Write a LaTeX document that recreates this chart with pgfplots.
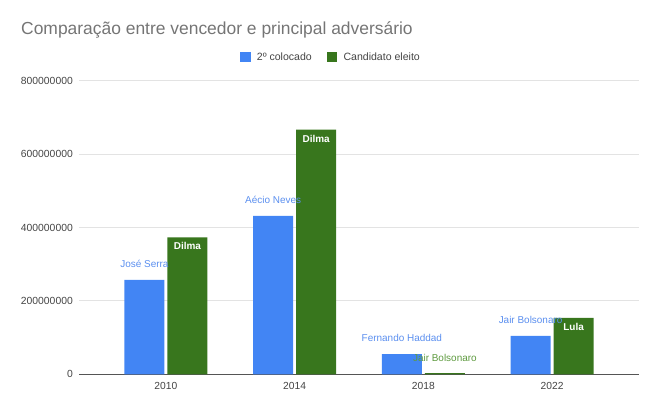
\documentclass[border=0pt]{standalone}
\usepackage{fontspec}
\setmainfont{Liberation Sans}
\usepackage{pgfplots}
\pgfplotsset{compat=1.18}
\definecolor{cblue}{HTML}{4285F4}
\definecolor{cgreen}{HTML}{38761D}
\definecolor{labelblue}{HTML}{5B8FEF}
\definecolor{labelgreen}{HTML}{5E9A3F}
\definecolor{titlegray}{HTML}{757575}
\definecolor{tickgray}{HTML}{444444}
\definecolor{gridgray}{HTML}{E3E3E3}
\definecolor{axisgray}{HTML}{555555}
\begin{document}
\begin{tikzpicture}
\path[use as bounding box] (0bp,0bp) rectangle (660bp,411bp);
\node[anchor=base west, inner sep=0pt, text=titlegray, font=\fontsize{17.5}{20}\selectfont] at (21bp,376bp) {Comparação entre vencedor e principal adversário};
\begin{axis}[
  at={(79bp,36.7bp)}, anchor=south west,
  scale only axis, width=560bp, height=293.6bp,
  xmin=-0.675, xmax=3.675, ymin=0, ymax=800000000,
  xtick={0,1,2,3}, xticklabels={2010,2014,2018,2022},
  ytick={0,200000000,400000000,600000000,800000000},
  yticklabels={0,200000000,400000000,600000000,800000000},
  scaled y ticks=false,
  axis x line*=bottom, axis y line*=left,
  axis line style={-},
  y axis line style={draw=none},
  x axis line style={draw=axisgray, line width=1bp},
  major tick length=0pt,
  ymajorgrids, grid style={gridgray, line width=0.9bp},
  xticklabel style={anchor=center, yshift=-11.4bp, inner sep=0pt, font=\fontsize{10.3}{12}\selectfont, text=tickgray},
  yticklabel style={anchor=east, xshift=-6bp, inner sep=0pt, font=\fontsize{10.4}{12}\selectfont, text=tickgray},
  legend style={at={(0.448,1.0807)}, anchor=center, draw=none, fill=none, legend columns=2,
    font=\fontsize{10.6}{12}\selectfont, text=tickgray, inner sep=0pt, nodes={inner sep=0pt},
    /tikz/every odd column/.append style={column sep=6.3bp},
    /tikz/every even column/.append style={column sep=14.7bp}},
  legend cell align=left,
  legend image code/.code={\fill[#1] (0bp,-5.35bp) rectangle (10.7bp,5.35bp);},
  clip=false,
]
\addplot[ybar, bar width=40bp, bar shift=-21.5bp, fill=cblue, draw=none]
  coordinates {(0,257000000) (1,432000000) (2,55000000) (3,104500000)};
\addlegendentry{2º colocado}
\addplot[ybar, bar width=40bp, bar shift=21.5bp, fill=cgreen, draw=none]
  coordinates {(0,373000000) (1,667000000) (2,3000000) (3,154000000)};
\addlegendentry{Candidato eleito}
% labels inside the green bars
\addplot[draw=none, mark=none, forget plot,
  nodes near coords, point meta=explicit symbolic,
  nodes near coords style={anchor=center, xshift=21.5bp, yshift=-9bp, inner sep=0pt, font=\fontsize{10}{12}\selectfont\bfseries, text=white}]
  coordinates {(0,373000000) [Dilma] (1,667000000) [Dilma] (3,154000000) [Lula]};
% label above the small 2018 green bar
\addplot[draw=none, mark=none, forget plot,
  nodes near coords, point meta=explicit symbolic,
  nodes near coords style={anchor=center, xshift=21.5bp, yshift=15.7bp, inner sep=0pt, font=\fontsize{10}{12}\selectfont, text=labelgreen}]
  coordinates {(2,3000000) [Jair Bolsonaro]};
% labels above the blue bars
\addplot[draw=none, mark=none, forget plot,
  nodes near coords, point meta=explicit symbolic,
  nodes near coords style={anchor=center, xshift=-21.5bp, yshift=16bp, inner sep=0pt, font=\fontsize{10}{12}\selectfont, text=labelblue}]
  coordinates {(0,257000000) [José Serra] (1,432000000) [Aécio Neves] (2,55000000) [Fernando Haddad] (3,104500000) [Jair Bolsonaro]};
\end{axis}
\end{tikzpicture}
\end{document}
